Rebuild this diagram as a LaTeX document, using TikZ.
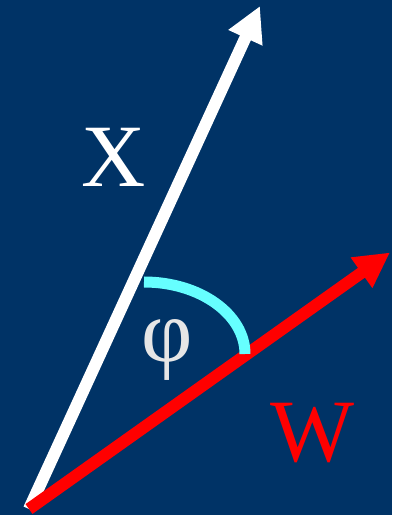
\documentclass[tikz,border=0pt]{standalone}
\usepackage{fontspec}
\setmainfont{Liberation Serif}
\usetikzlibrary{arrows.meta}
\definecolor{bgblue}{HTML}{003366}
\definecolor{arccyan}{HTML}{66FFFF}
\definecolor{phigray}{HTML}{E6E6E6}
\tikzset{
  vec/.style={line width=12pt, -{Triangle[length=35pt,width=35pt]}},
  lbl/.style={inner sep=0pt, font=\fontsize{89}{89}\selectfont}
}
\begin{document}
\begin{tikzpicture}[x=1pt,y=1pt]
  \useasboundingbox (0,0) rectangle (392,515);
  \fill[bgblue] (0,0) rectangle (392,515);
  \coordinate (O) at (29,6);
  \coordinate (Xtip) at (260,509);
  \coordinate (Wtip) at (390,262.5);
  \coordinate (arcstart) at (245,161);
  \draw[vec, white] (O) -- (Xtip);
  \draw[vec, red] (O) -- (Wtip);
  \draw[arccyan, line width=11pt] (arcstart) arc[start angle=0, end angle=90, x radius=101, y radius=72];
  \node[lbl, white] (X) at (114,357.5) {X};
  \node[lbl, red] (W) at (312,81.5) {W};
  \node[lbl, phigray] (phi) at (167,165) {φ};
\end{tikzpicture}
\end{document}
